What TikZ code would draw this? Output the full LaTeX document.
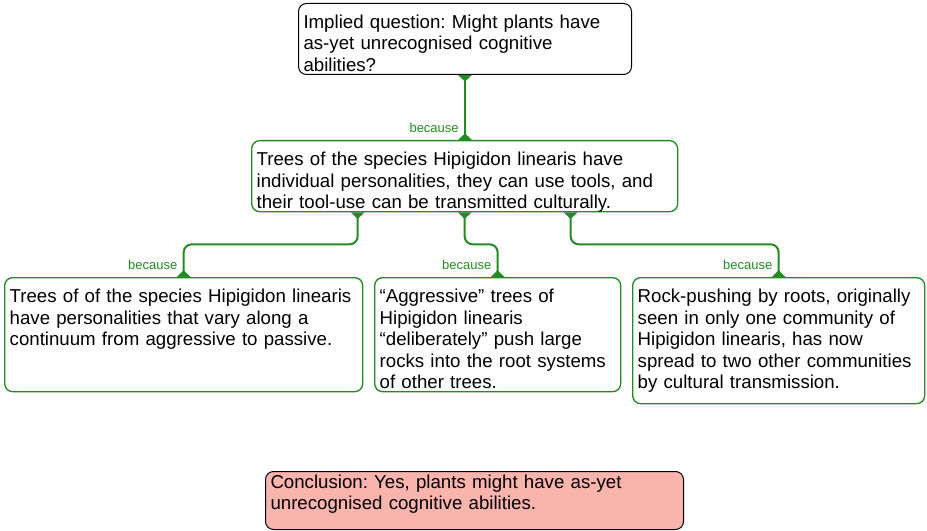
\documentclass[tikz,border=0pt]{standalone}
\usepackage{fontspec}
\setmainfont{Liberation Sans}
\usetikzlibrary{arrows.meta, positioning}
\definecolor{linkgreen}{RGB}{34,139,34}
\definecolor{conclpink}{RGB}{250,180,174}
\frenchspacing

\begin{document}
\begin{tikzpicture}[x=0.75pt, y=-0.75pt,
  every node/.style={font=\fontsize{14pt}{16.1pt}\selectfont},
  claim/.style={draw, line width=0.75pt, rounded corners=6pt, fill=white, anchor=north west, align=left, inner xsep=3.75pt, inner ysep=0pt, text height=18.75pt},
  premise/.style={claim, draw=linkgreen, line width=1pt},
  link/.style={draw=linkgreen, line width=1.5pt, rounded corners=6pt, {Triangle[reversed,width=10pt,length=5pt]}-{Triangle[reversed,width=10pt,length=5pt]}},
  because/.style={font=\fontsize{9.75pt}{11pt}\selectfont, text=linkgreen, inner sep=0pt, anchor=south east, xshift=-4pt, yshift=4.5pt}]

\useasboundingbox (0,0) rectangle (927,531);

% Implied question
\node[claim, text width=242.25pt, text depth=34.5pt] (quest) at (298,3)
  {Implied question: Might plants have\\as-yet unrecognised cognitive\\abilities?};

% Main reason
\node[premise, text width=312pt, text depth=34.5pt] (trees) at (251,140)
  {Trees of the species Hipigidon linearis have\\individual personalities, they can use tools, and\\their tool-use can be transmitted culturally.};

% Supporting reasons
\node[premise, text width=261pt, text depth=66.75pt] (pers) at (4,277)
  {Trees of of the species Hipigidon linearis\\have personalities that vary along a\\continuum from aggressive to passive.};
\node[premise, text width=177pt, text depth=66.75pt] (rocks) at (374,277)
  {“Aggressive” trees of\\Hipigidon linearis\\“deliberately” push large\\rocks into the root systems\\of other trees.};
\node[premise, text width=211.5pt, text depth=75.75pt] (spread) at (632,277)
  {Rock-pushing by roots, originally\\seen in only one community of\\Hipigidon linearis, has now\\spread to two other communities\\by cultural transmission.};

% Conclusion
\node[claim, fill=conclpink, text width=306pt, text height=12.75pt, text depth=30.75pt] (concl) at (265,471)
  {Conclusion: Yes, plants might have as-yet\\unrecognised cognitive abilities.};

% Links
\draw[link] (quest.south) -- (quest.south |- trees.north) node[because] (why1) {because};
\draw[link] ([xshift=-80.25pt]trees.south) -- ++(0,32) -| (pers.north) node[because] (why2) {because};
\draw[link] (trees.south) -- ++(0,32) -| (rocks.north) node[because] (why3) {because};
\draw[link] ([xshift=79.5pt]trees.south) -- ++(0,32) -| (spread.north) node[because] (why4) {because};

\end{tikzpicture}
\end{document}
